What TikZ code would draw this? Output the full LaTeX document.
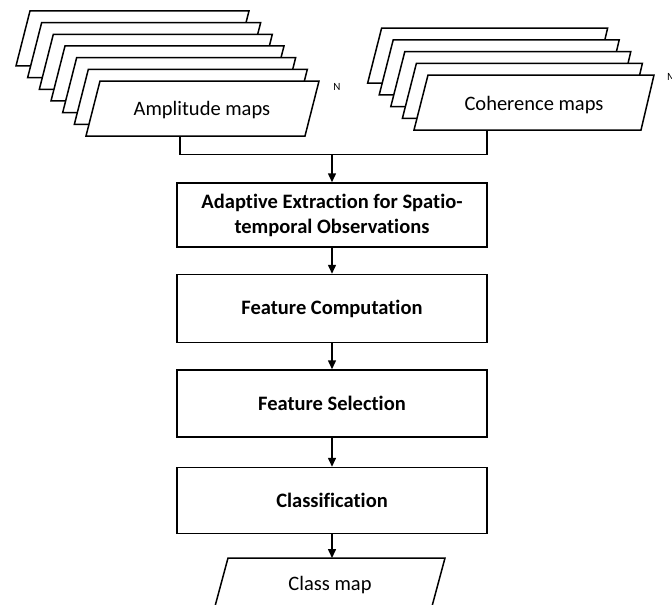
\documentclass[tikz,border=0pt]{standalone}
\usepackage{fontspec}
\setmainfont{Carlito}[Ligatures=NoCommon]
\usetikzlibrary{positioning,arrows.meta}
\tikzset{
  flow/.style={-{Triangle[length=9pt,width=8pt]},line width=1.5pt},
  link/.style={line width=1.5pt},
  sheet/.style={draw,fill=white,line width=1.5pt},
  stepbox/.style={draw,fill=white,line width=1.5pt,minimum width=310pt,
    align=center,font=\fontsize{20.5}{25}\selectfont\bfseries},
  maplabel/.style={font=\fontsize{20.5}{25}\selectfont},
  countlabel/.style={font=\fontsize{11}{13}\selectfont,inner sep=0pt}
}

\begin{document}
\begin{tikzpicture}[x=1pt,y=-1pt,node distance=26pt]
  \useasboundingbox (0,0) rectangle (672,605);
  % amplitude stack, back to front
  \foreach \k in {6,5,...,0}
    \draw[sheet,shift={(-11.67*\k,-11.67*\k)}]
      (100,81) -- (319,81) -- (305,136) -- (86,136) -- cycle;
  \node[maplabel] (amp) at (202,110) {Amplitude maps};
  \node[countlabel] (ncount) at (337,86.5) {N};
  % coherence stack, back to front
  \foreach \k in {4,3,...,0}
    \draw[sheet,shift={(-11.6*\k,-11.7*\k)}]
      (428,75) -- (654,75) -- (641,130) -- (414,130) -- cycle;
  \node[maplabel] (coh) at (534,105) {Coherence maps};
  \node[countlabel,anchor=west] (mcount) at (667,77) {M};

  % processing chain
  \node[stepbox,minimum height=64pt] (extract) at (332,215)
    {Adaptive Extraction for Spatio-\\temporal Observations};
  \node[stepbox,minimum height=68pt,below=of extract] (compute) {Feature Computation};
  \node[stepbox,minimum height=67pt,below=of compute] (select) {Feature Selection};
  \node[stepbox,minimum height=66pt,below=29pt of select] (classify) {Classification};

  % output map
  \draw[sheet] (228,558) -- (445,558) -- (431,610) -- (214,610) -- cycle;
  \node[maplabel] (classmap) at (330,585) {Class map};
  \coordinate (classtop) at (330,558);

  \coordinate (ampfoot) at (180,136);
  \coordinate (cohfoot) at (487,130);
  \coordinate[above=28pt of extract] (join);
  \draw[link] (ampfoot) |- (join) -| (cohfoot);
  \draw[flow] (join) -- (extract);
  \draw[flow] (extract) -- (compute);
  \draw[flow] (compute) -- (select);
  \draw[flow] (select) -- (classify);
  \draw[flow] (classify.south) -- (classify.south |- classtop);
\end{tikzpicture}
\end{document}
